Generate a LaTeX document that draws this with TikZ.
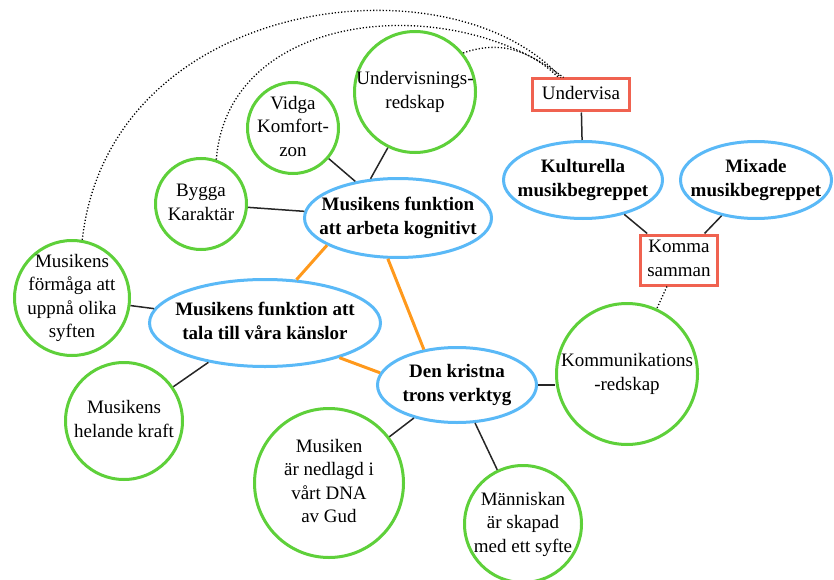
\documentclass[tikz,border=0pt]{standalone}
\usepackage{fontspec}
\setmainfont{Liberation Serif}
\usetikzlibrary{shapes.geometric}
\definecolor{leaf}{RGB}{94,208,58}
\definecolor{sky}{RGB}{90,185,247}
\definecolor{brick}{RGB}{240,98,80}
\definecolor{amber}{RGB}{255,153,28}
\newcommand{\labelsize}{\fontsize{19}{23.5}\selectfont}
\newcommand{\nodetext}[1]{\makebox[0pt]{\begin{tabular}{@{}c@{}}#1\end{tabular}}}
\tikzset{
    idea/.style={circle, draw=leaf, line width=3pt, fill=white, minimum size=#1, inner sep=0pt},
    theme/.style args={#1 #2}{ellipse, draw=sky, line width=3pt, fill=white,
        minimum width=#1, minimum height=#2, inner sep=0pt, font={\labelsize\bfseries}},
    tag/.style args={#1 #2}{rectangle, draw=brick, line width=3pt, fill=white,
        minimum width=#1, minimum height=#2, inner sep=0pt},
    link/.style={line width=1.5pt, black!85},
    core/.style={line width=3pt, amber},
    dotlink/.style={line width=1.3pt, dash pattern=on 1.2pt off 2pt},
}

\begin{document}
\begin{tikzpicture}[x=1pt, y=-1pt]
    \tikzstyle{every node}=[font=\labelsize];
    \useasboundingbox (0,0) rectangle (834,580);
    % the three main functions
    \node[theme={187pt 79pt}] (kognitivt) at (398,218) {\nodetext{Musikens funktion\\att arbeta kognitivt}};
    \node[theme={231pt 87pt}] (kanslor) at (265,323) {\nodetext{Musikens funktion att\\tala till våra känslor}};
    \node[theme={159pt 75pt}] (kristna) at (457,385) {\nodetext{Den kristna\\trons verktyg}};
    \node[theme={159pt 77pt}] (kulturella) at (583,180) {\nodetext{Kulturella\\musikbegreppet}};
    \node[theme={151pt 77pt}] (mixade) at (756,180) {\nodetext{Mixade\\musikbegreppet}};
    % boxes
    \node[tag={97pt 32pt}] (undervisa) at (581,95) {\nodetext{Undervisa}};
    \node[tag={77pt 50pt}] (komma) at (679,260) {\nodetext{Komma\\samman}};
    % circles
    \node[idea=121pt] (undred) at (415,92) {\nodetext{Undervisnings-\\redskap}};
    \node[idea=91pt] (vidga) at (293,128) {\nodetext{Vidga\\Komfort-\\zon}};
    \node[idea=91pt] (bygga) at (201,204) {\nodetext{Bygga\\Karaktär}};
    \node[idea=115pt] (formaga) at (72,298) {\nodetext{Musikens\\förmåga att\\uppnå olika\\syften}};
    \node[idea=117pt] (helande) at (124,421) {\nodetext{Musikens\\helande kraft}};
    \node[idea=149pt] (dna) at (329,483) {\nodetext{Musiken\\är nedlagd i\\vårt DNA\\av Gud}};
    \node[idea=117pt] (manniskan) at (523,524) {\nodetext{Människan\\är skapad\\med ett syfte}};
    \node[idea=141pt] (kommred) at (627,374) {\nodetext{Kommunikations\\-redskap}};
    % links
    \draw[link] (undred.244) -- (kognitivt.125);
    \draw[link] (vidga) -- (kognitivt);
    \draw[link] (bygga) -- (kognitivt);
    \draw[link] (formaga) -- (kanslor);
    \draw[link] (helande) -- (kanslor);
    \draw[link] (kristna) -- (dna);
    \draw[link] (kristna) -- (manniskan);
    \draw[link] (kristna.east) -- (kommred.west |- kristna.east);
    \draw[link] (undervisa) -- (kulturella);
    \draw[link] (kulturella) -- (komma);
    \draw[link] (mixade) -- (komma);
    \draw[core] (kognitivt.201) -- (kanslor.54);
    \draw[core] (kognitivt.256) -- (kristna.133);
    \draw[core] (kanslor.335) -- (kristna.171);
    % dotted curves
    \draw[dotlink] (formaga.80) .. controls (110,-5) and (450,-45) .. (undervisa.139);
    \draw[dotlink] (bygga.71) .. controls (228,10) and (450,-10) .. (undervisa.135);
    \draw[dotlink] (undred.39) .. controls (500,40) and (530,50) .. (undervisa.142);
    \draw[dotlink] (komma) -- (kommred);
\end{tikzpicture}
\end{document}
